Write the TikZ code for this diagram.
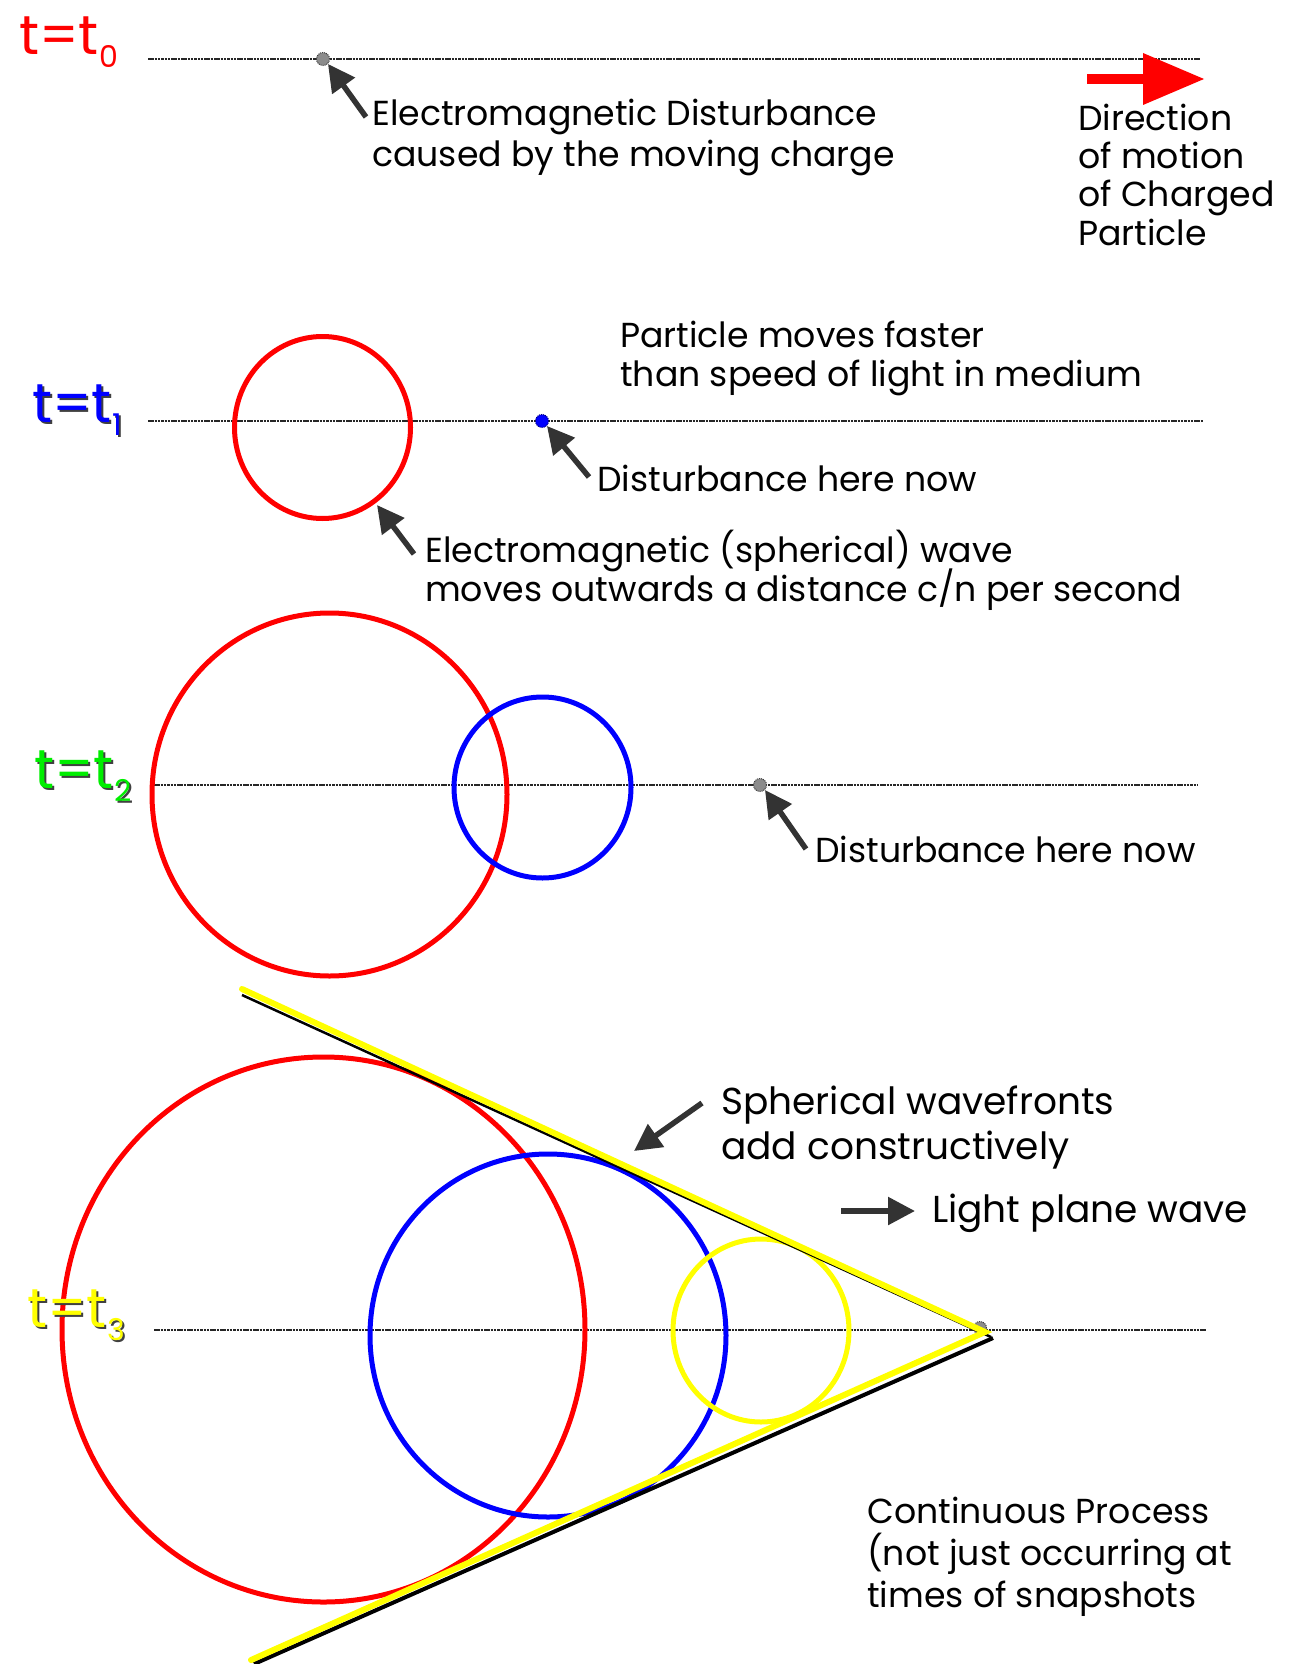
\documentclass[tikz,border=0pt]{standalone}
\usepackage{fontspec}
\setmainfont{Poppins}
\usetikzlibrary{arrows.meta}
\definecolor{arrgray}{HTML}{333333}
\definecolor{lblgreen}{HTML}{00EE00}
\definecolor{conecol}{HTML}{FFFF00}
\newcommand{\tsub}[1]{t=t\raisebox{-13pt}{\fontsize{30}{30}\selectfont #1}}
\begin{document}
\begin{tikzpicture}[x=1pt,y=-1pt,
  txt/.style={anchor=base west, inner sep=0pt, font=\fontsize{34.7}{41}\selectfont},
  bigtxt/.style={anchor=base west, inner sep=0pt, font=\fontsize{37.5}{45}\selectfont},
  lbl/.style={anchor=base west, inner sep=0pt, font=\fontsize{55}{55}\selectfont},
  shadowlbl/.style={lbl, text=black!75},
  ptr/.style={draw=arrgray, line width=5.5pt, -{Triangle[length=27pt,width=27pt]}},
  axis/.style={draw=black!85, line width=1.6pt, dash pattern=on 2.5pt off 0.8pt},
  wave/.style={line width=5pt},
  partdot/.style={circle, inner sep=0pt, minimum size=13pt, draw=black!75, fill=gray!90, line width=1pt, dash pattern=on 1pt off 1pt}
]
\useasboundingbox[fill=white] (0,0) rectangle (1288,1664);

% ---------- t = t0 ----------
\node[lbl, text=red] (l0) at (19,55) {\tsub{0}};
\coordinate (a0s) at (148,59); \coordinate (a0e) at (1200,59);
\draw[axis] (a0s) -- (a0e);
\node[partdot] (d0) at (323,59) {};
\coordinate (p0t) at (366,117);
\draw[ptr] (p0t) -- (d0.south east);
\node[txt] (t0a) at (372,126) {Electromagnetic Disturbance};
\node[txt] (t0b) at (372,167) {caused by the moving charge};
% red direction arrow
\fill[red] (1087,74) rectangle (1146,84);
\fill[red] (1143,53) -- (1204,79) -- (1143,105) -- cycle;
\node[txt] (dir1) at (1078,131) {Direction};
\node[txt] (dir2) at (1078,169) {of motion};
\node[txt] (dir3) at (1078,207) {of Charged};
\node[txt] (dir4) at (1078,245) {Particle};

% ---------- t = t1 ----------
\node[shadowlbl] (l1s) at (34,424) {\tsub{1}};
\node[lbl, text=blue] (l1) at (32,422) {\tsub{1}};
\coordinate (a1s) at (148,421); \coordinate (a1e) at (1203,421);
\draw[axis] (a1s) -- (a1e);
\draw[red, wave] (322.5,427.5) ellipse [x radius=88, y radius=91];
\node[partdot, fill=blue, draw=blue!50!black] (d1) at (542,421) {};
\node[txt] (t1a) at (620,347) {Particle moves faster};
\node[txt] (t1b) at (620,386) {than speed of light in medium};
\coordinate (p1t) at (589,477);
\draw[ptr] (p1t) -- (d1.south east);
\node[txt] (t1c) at (597,491) {Disturbance here now};
\coordinate (c1t) at (414,554); \coordinate (c1h) at (377,505);
\draw[ptr] (c1t) -- (c1h);
\node[txt] (t1d) at (425,562) {Electromagnetic (spherical) wave};
\node[txt] (t1e) at (425,601) {moves outwards a distance c/n per second};

% ---------- t = t2 ----------
\node[shadowlbl] (l2s) at (36,790) {\tsub{2}};
\node[lbl, text=lblgreen] (l2) at (34,788) {\tsub{2}};
\coordinate (a2s) at (154,785); \coordinate (a2e) at (1197,785);
\draw[axis] (a2s) -- (a2e);
\draw[red, wave] (329.5,794.5) ellipse [x radius=177.5, y radius=181.5];
\draw[blue, wave] (542.5,787.5) ellipse [x radius=88.5, y radius=90.5];
\node[partdot] (d2) at (760,785) {};
\coordinate (p2t) at (806,849);
\draw[ptr] (p2t) -- (d2.south east);
\node[txt] (t2a) at (815,862) {Disturbance here now};

% ---------- t = t3 ----------
\coordinate (a3s) at (154,1330); \coordinate (a3e) at (1206,1330);
\draw[axis] (a3s) -- (a3e);
\draw[red, wave] (323.5,1329.5) ellipse [x radius=261.5, y radius=272.5];
\draw[blue, wave] (548,1335.5) ellipse [x radius=178, y radius=181.5];
\draw[conecol, wave] (761,1330.5) ellipse [x radius=88, y radius=91.5];
\node[partdot] (d3) at (980,1328) {};
% cone
\coordinate (ub) at (242,995); \coordinate (ab1) at (991,1337);
\coordinate (lb) at (254,1664); \coordinate (ab2) at (993,1338);
\draw[black, line width=2.5pt] (ub) -- (ab1);
\draw[black, line width=4pt] (lb) -- (ab2);
\coordinate (uy) at (242,989); \coordinate (apex) at (985,1332);
\coordinate (ly) at (251,1660);
\draw[conecol, line width=6pt, line cap=round] (uy) -- (apex) -- (ly);
\node[shadowlbl] (l3s) at (29,1329) {\tsub{3}};
\node[lbl, text=conecol] (l3) at (27,1327) {\tsub{3}};
\coordinate (swt) at (702,1103); \coordinate (swh) at (634,1151);
\draw[ptr] (swt) -- (swh);
\node[bigtxt] (t3a) at (721,1114) {Spherical wavefronts};
\node[bigtxt] (t3b) at (721,1159) {add constructively};
\coordinate (lpt) at (841,1211); \coordinate (lph) at (915,1211);
\draw[ptr] (lpt) -- (lph);
\node[bigtxt] (t3c) at (932,1222) {Light plane wave};
\node[txt] (t3d) at (867,1523) {Continuous Process};
\node[txt] (t3e) at (867,1565) {(not just occurring at};
\node[txt] (t3f) at (867,1607) {times of snapshots};
\end{tikzpicture}
\end{document}
